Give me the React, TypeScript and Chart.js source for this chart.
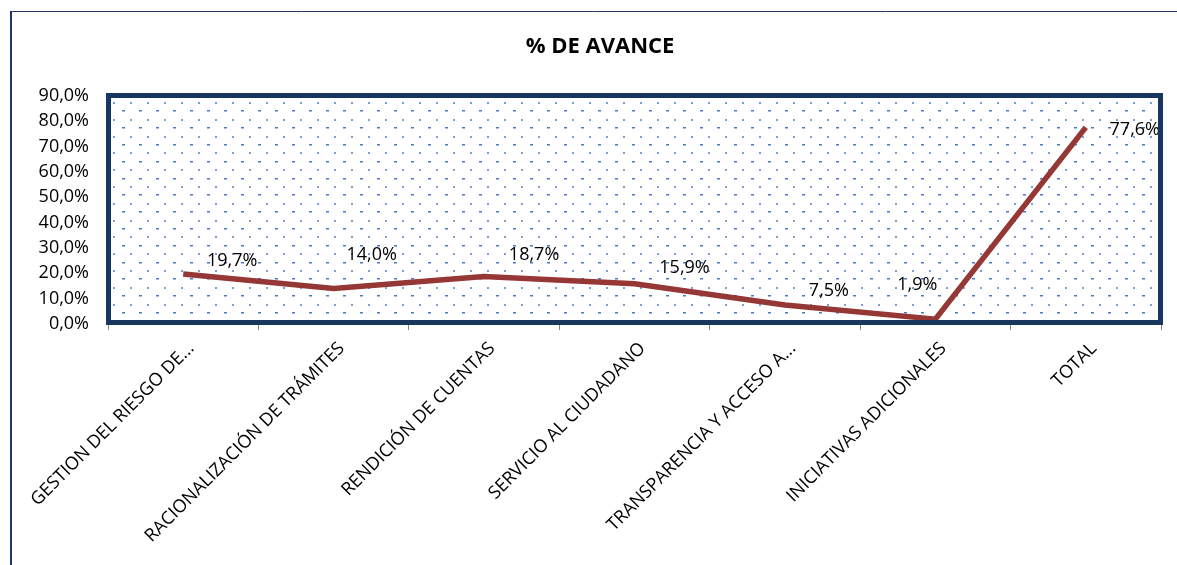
import React, { useEffect, useRef } from "react";
import { Chart, registerables } from "chart.js";

Chart.register(...registerables);

const categories = [
  "GESTION DEL RIESGO DE...",
  "RACIONALIZACIÓN DE TRÁMITES",
  "RENDICIÓN DE CUENTAS",
  "SERVICIO AL CIUDADANO",
  "TRANSPARENCIA Y ACCESO A...",
  "INICIATIVAS ADICIONALES",
  "TOTAL",
];
const avance = [19.7, 14.0, 18.7, 15.9, 7.5, 1.9, 77.6];
const yTicks = [0, 10, 20, 30, 40, 50, 60, 70, 80, 90];
const chartTitle = "% DE AVANCE";

// label placement relative to each point (pixels), mimicking the manual Excel label layout
const labelOffsets: [number, number][] = [
  [49, -13],
  [38, -34],
  [50, -22],
  [50, -16],
  [44, -14],
  [-18, -34],
  [49, 2],
];

const FONT = "'Open Sans', 'Noto Sans', sans-serif";
const fmt = (v: number) => v.toFixed(1).replace(".", ",") + "%";

const framePlugin = {
  id: "frame",
  beforeDraw(chart: any) {
    const { ctx, chartArea } = chart;
    ctx.save();
    ctx.fillStyle = "#ffffff";
    ctx.fillRect(0, 0, chart.width, chart.height);
    // outer frame lines
    ctx.strokeStyle = "#1F3864";
    ctx.lineWidth = 2;
    ctx.beginPath();
    ctx.moveTo(11, chart.height);
    ctx.lineTo(11, 11);
    ctx.stroke();
    ctx.lineWidth = 1;
    ctx.beginPath();
    ctx.moveTo(10, 11.5);
    ctx.lineTo(chart.width, 11.5);
    ctx.stroke();
    // title
    ctx.fillStyle = "#000000";
    ctx.font = `bold 22px ${FONT}`;
    ctx.textAlign = "center";
    ctx.textBaseline = "middle";
    ctx.fillText(chartTitle, 600, 47);
    // dotted pattern in plot area
    const { left, top, right, bottom } = chartArea;
    ctx.beginPath();
    ctx.rect(left, top, right - left, bottom - top);
    ctx.clip();
    let row = 0;
    for (let y = top + 6; y < bottom; y += 8.4, row++) {
      const even = row % 2 === 0;
      ctx.fillStyle = even ? "#7a9fd6" : "#4a78c8";
      const startX = left + (even ? 5 : 13.5);
      for (let x = startX; x < right; x += 17) {
        if (even) ctx.fillRect(Math.round(x), Math.round(y), 2, 2);
        else ctx.fillRect(Math.round(x), Math.round(y), 3, 1.5);
      }
    }
    ctx.restore();
  },
  afterDraw(chart: any) {
    const { ctx, chartArea } = chart;
    const { left, top, right, bottom } = chartArea;
    ctx.save();
    ctx.strokeStyle = "#17375E";
    ctx.lineWidth = 5;
    ctx.strokeRect(left + 0.5, top - 0.5, right - left - 1, bottom - top - 1);
    ctx.restore();
  },
};

const labelPlugin = {
  id: "pointLabels",
  afterDatasetsDraw(chart: any) {
    const { ctx } = chart;
    const meta = chart.getDatasetMeta(0);
    ctx.save();
    ctx.font = `18px ${FONT}`;
    ctx.fillStyle = "#000000";
    ctx.textAlign = "center";
    ctx.textBaseline = "middle";
    meta.data.forEach((pt: any, i: number) => {
      const [dx, dy] = labelOffsets[i];
      ctx.fillText(fmt(avance[i]), pt.x + dx, pt.y + dy);
    });
    ctx.restore();
  },
};

export default function App() {
  const ref = useRef<HTMLCanvasElement>(null);
  useEffect(() => {
    if (!ref.current) return;
    const chart = new Chart(ref.current, {
      type: "line",
      data: {
        labels: categories,
        datasets: [
          {
            data: avance,
            borderColor: "#953735",
            borderWidth: 5.5,
            pointRadius: 0,
            tension: 0,
            fill: false,
          },
        ],
      },
      options: {
        responsive: false,
        animation: false,
        layout: { padding: { left: 0, top: 96, right: 16, bottom: 0 } },
        plugins: {
          legend: { display: false },
          title: { display: false },
          tooltip: { enabled: false },
        },
        scales: {
          x: {
            type: "category",
            offset: true,
            grid: {
              display: true,
              offset: true,
              drawOnChartArea: false,
              drawTicks: true,
              tickLength: 6,
              color: "#868686",
              lineWidth: 1,
            },
            border: { display: true, color: "#868686", width: 1 },
            ticks: {
              autoSkip: false,
              maxRotation: 45,
              minRotation: 45,
              padding: 8,
              labelOffset: 8,
              color: "#000000",
              font: { family: FONT, size: 18 },
            },
            afterFit(scale: any) {
              scale.height = 565 - 324;
              scale.paddingLeft = 0;
              scale.paddingRight = 0;
            },
          },
          y: {
            min: 0,
            max: 90,
            afterBuildTicks(scale: any) {
              scale.ticks = yTicks.map((v) => ({ value: v }));
            },
            grid: { display: false, drawTicks: false },
            border: { display: false },
            ticks: {
              padding: 19,
              color: "#000000",
              font: { family: FONT, size: 18 },
              callback: (v: any) => fmt(Number(v)),
            },
            afterFit(scale: any) {
              scale.width = 108;
            },
          },
        },
      },
      plugins: [framePlugin, labelPlugin],
    });
    return () => chart.destroy();
  }, []);
  return (
    <div style={{ position: "fixed", left: 0, top: 0, width: 1177, height: 565 }}>
      <canvas ref={ref} width={1177} height={565} style={{ width: 1177, height: 565 }} />
    </div>
  );
}
